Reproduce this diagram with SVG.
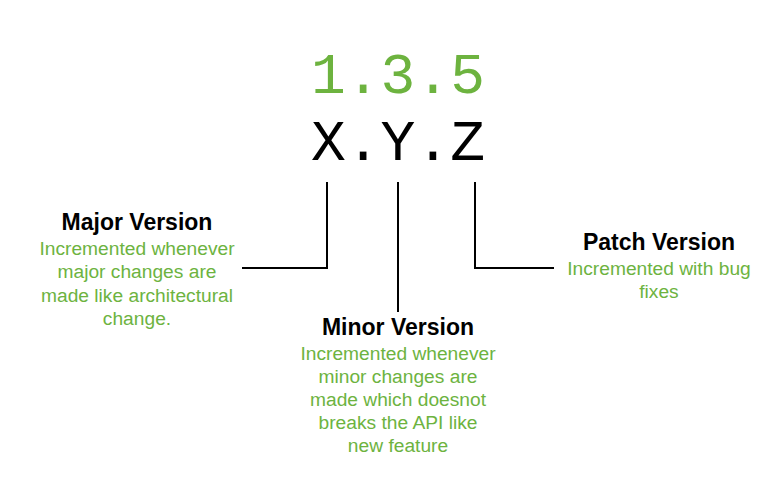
<svg xmlns="http://www.w3.org/2000/svg" width="782" height="496" viewBox="0 0 782 496">
<style>
.ver{font-family:"Liberation Mono",monospace;font-size:58px;text-anchor:middle}
.h{font-family:"Liberation Sans",Arial,sans-serif;font-weight:bold;font-size:23px;fill:#000;text-anchor:middle}
.d{font-family:"Liberation Sans",Arial,sans-serif;font-size:19.2px;fill:#6db33f;text-anchor:middle}
.ln{fill:none;stroke:#000;stroke-width:2}
</style>
<rect width="782" height="496" fill="#fff"/>
<g id="title">
<text class="ver" x="398" y="93" fill="#6db33f">1.3.5</text>
<text class="ver" x="398" y="160" fill="#000">X.Y.Z</text>
</g>
<g id="connectors">
<polyline class="ln" points="327,182 327,268 242,268"/>
<line class="ln" x1="398" y1="182" x2="398" y2="312"/>
<polyline class="ln" points="475,182 475,268 554,268"/>
</g>
<g id="major">
<text class="h" x="137" y="230">Major Version</text>
<text class="d" x="137" y="255">Incremented whenever</text>
<text class="d" x="137" y="278">major changes are</text>
<text class="d" x="137" y="302">made like architectural</text>
<text class="d" x="137" y="325">change.</text>
</g>
<g id="minor">
<text class="h" x="398" y="335">Minor Version</text>
<text class="d" x="398" y="360">Incremented whenever</text>
<text class="d" x="398" y="383">minor changes are</text>
<text class="d" x="398" y="406">made which doesnot</text>
<text class="d" x="398" y="429">breaks the API like</text>
<text class="d" x="398" y="452">new feature</text>
</g>
<g id="patch">
<text class="h" x="659" y="250">Patch Version</text>
<text class="d" x="659" y="275">Incremented with bug</text>
<text class="d" x="659" y="298">fixes</text>
</g>
</svg>
